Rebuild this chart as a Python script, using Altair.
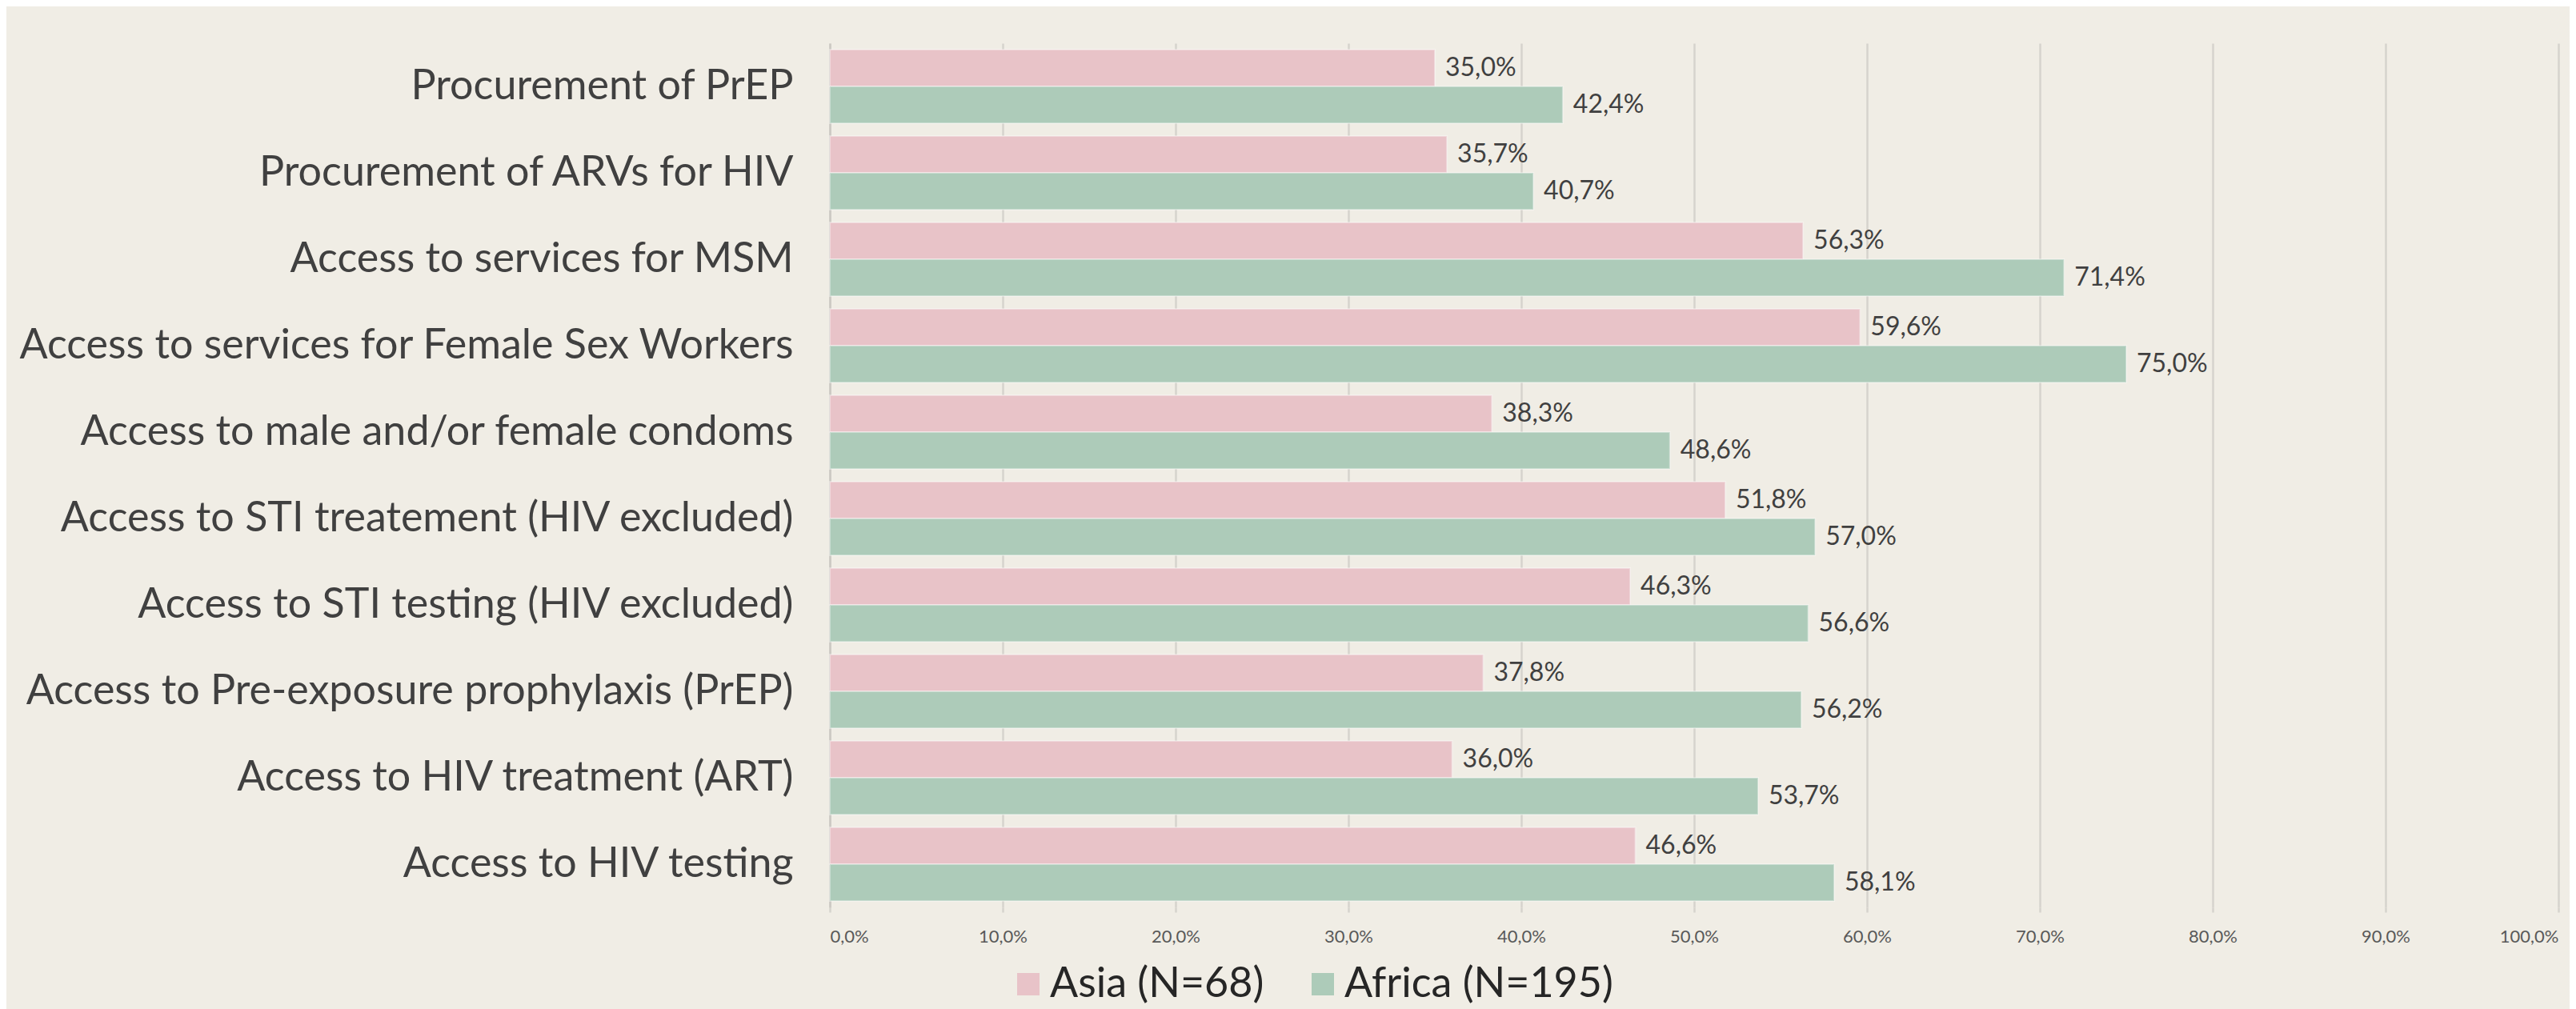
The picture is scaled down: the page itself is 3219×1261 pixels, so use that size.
import altair as alt
import pandas as pd

categories = [
    "Procurement of PrEP",
    "Procurement of ARVs for HIV",
    "Access to services for MSM",
    "Access to services for Female Sex Workers",
    "Access to male and/or female condoms",
    "Access to STI treatement (HIV excluded)",
    "Access to STI testing (HIV excluded)",
    "Access to Pre-exposure prophylaxis (PrEP)",
    "Access to HIV treatment (ART)",
    "Access to HIV testing",
]
series = ["Asia (N=68)", "Africa (N=195)"]
asia = [35.0, 35.7, 56.3, 59.6, 38.3, 51.8, 46.3, 37.8, 36.0, 46.6]
africa = [42.4, 40.7, 71.4, 75.0, 48.6, 57.0, 56.6, 56.2, 53.7, 58.1]
x_ticks = [0, 10, 20, 30, 40, 50, 60, 70, 80, 90, 100]
colors = ["#E8C3C8", "#ADCBB9"]

rows = []
for c, a, f in zip(categories, asia, africa):
    rows.append({"cat": c, "series": series[0], "value": a})
    rows.append({"cat": c, "series": series[1], "value": f})
df = pd.DataFrame(rows)
df["label"] = df["value"].map(lambda v: f"{v:.1f}%".replace(".", ","))

FONT = "Lato"

y_enc = alt.Y(
    "cat:N",
    sort=categories,
    title=None,
    scale=alt.Scale(paddingInner=0.148, paddingOuter=0.074),
    axis=alt.Axis(
        labelFontSize=52,
        labelFont=FONT,
        labelColor="#404040",
        labelPadding=46,
        labelLimit=2000,
        ticks=False,
        domain=True,
        domainColor="#CCC9C3",
        domainWidth=2.5,
        grid=False,
    ),
)
x_enc = alt.X(
    "value:Q",
    title=None,
    scale=alt.Scale(domain=[0, 100], nice=False),
    axis=alt.Axis(
        values=x_ticks,
        labelExpr="replace(format(datum.value, '.1f'), '.', ',') + '%'",
        labelFontSize=22,
        labelFont=FONT,
        labelColor="#595959",
        labelPadding=20,
        domain=False,
        ticks=True,
        tickSize=6,
        tickColor="#D6D3CD",
        tickWidth=2.5,
        grid=True,
        gridColor="#D6D3CD",
        gridWidth=2.5,
    ),
)
yoff = alt.YOffset("series:N", sort=series)

bars = alt.Chart(df).mark_bar(stroke="white", strokeOpacity=0.35, strokeWidth=2).encode(
    x=x_enc,
    y=y_enc,
    yOffset=yoff,
    color=alt.Color(
        "series:N",
        sort=series,
        scale=alt.Scale(domain=series, range=colors),
        legend=alt.Legend(
            title=None,
            orient="none",
            direction="horizontal",
            legendX=222,
            legendY=1150,
            symbolType="square",
            symbolSize=784,
            symbolStrokeWidth=0,
            symbolOpacity=1,
            labelFontSize=52,
            labelFont=FONT,
            labelColor="#262626",
            labelOffset=1,
            columnPadding=47,
            labelLimit=1000,
        ),
    ),
)

text = alt.Chart(df).mark_text(
    align="left", baseline="middle", dx=13, fontSize=32, font=FONT, color="#404040"
).encode(
    x=alt.X("value:Q"),
    y=alt.Y("cat:N", sort=categories),
    yOffset=yoff,
    text="label:N",
)

chart = (
    alt.layer(bars, text)
    .properties(
        width=2160,
        height=1080,
        background="#F0EDE5",
        autosize=alt.AutoSizeParams(type="none"),
        padding={"left": 1029, "top": 46, "right": 14, "bottom": 127},
    )
    .configure_view(stroke=None)
)

chart.save("out.html", embed_options={"renderer": "svg", "actions": False})
